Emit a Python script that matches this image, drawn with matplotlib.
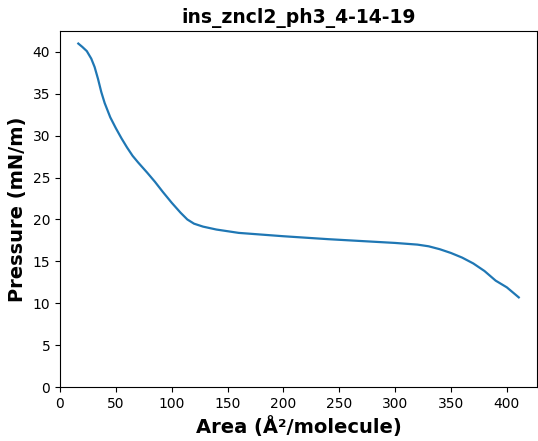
import matplotlib
matplotlib.use("Agg")
import matplotlib.pyplot as plt

# isotherm
area = [16.4, 20, 24, 28, 31, 34, 37, 40, 45, 50, 55, 60, 65, 70, 78, 85,
        92, 100, 108, 114, 120, 128, 140, 160, 180, 200, 240, 280, 300,
        320, 330, 340, 350, 360, 370, 380, 390, 400, 410.7]
pressure = [41.0, 40.6, 40.1, 39.2, 38.2, 36.8, 35.2, 33.9, 32.2, 30.9,
            29.7, 28.6, 27.6, 26.8, 25.6, 24.5, 23.3, 22.0, 20.8, 20.0,
            19.5, 19.15, 18.8, 18.4, 18.2, 18.0, 17.65, 17.35, 17.2, 17.0,
            16.8, 16.45, 16.0, 15.45, 14.75, 13.85, 12.7, 11.9, 10.7]

fig = plt.figure(figsize=(5.38, 4.41), dpi=100)
ax = fig.add_axes([0.1115, 0.1224, 0.8866, 0.8073])
ax.plot(area, pressure, color="tab:blue", linewidth=1.6)

ax.set_xlim(0, 427)
ax.set_ylim(0, 42.5)
ax.set_xticks(range(0, 401, 50))
ax.set_yticks(range(0, 41, 5))
ax.tick_params(labelsize=10)

ax.set_title("ins_zncl2_ph3_4-14-19", fontsize=13.5, fontweight="bold")
ax.set_xlabel("Area (Å²/molecule)", fontsize=14, fontweight="bold")
ax.set_ylabel("Pressure (mN/m)", fontsize=14, fontweight="bold")

fig.savefig("out.png", dpi=100)
